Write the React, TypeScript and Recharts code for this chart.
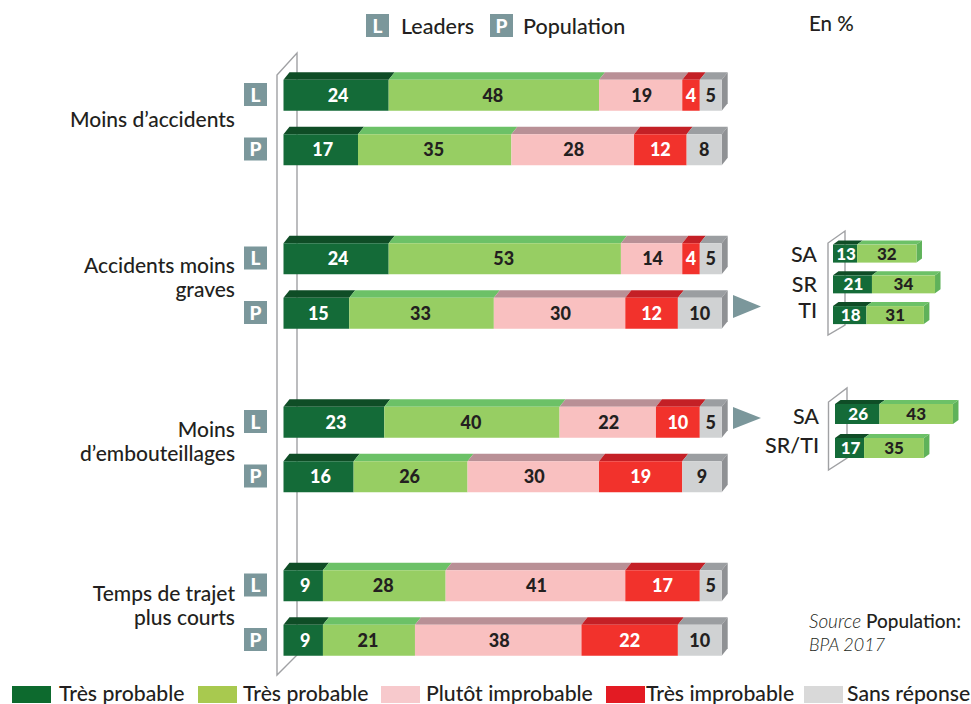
import React from 'react';
import { BarChart, Bar, XAxis, YAxis, LabelList } from 'recharts';

const FONT = 'Lato, sans-serif';
const INK = '#231f20';
const BADGE = '#7b979b';
const FRAME = '#a0a1a4';

// main chart: blank rows keep the gap between the four groups
const rows = ['L', 'P', '', 'L', 'P', '', 'L', 'P', '', 'L', 'P'];
const veryLikely = [24, 17, null, 24, 15, null, 23, 16, null, 9, 9];
const likely = [48, 35, null, 53, 33, null, 40, 26, null, 28, 21];
const unlikely = [19, 28, null, 14, 30, null, 22, 30, null, 41, 38];
const veryUnlikely = [4, 12, null, 4, 12, null, 10, 19, null, 17, 22];
const noAnswer = [5, 8, null, 5, 10, null, 5, 9, null, 5, 10];

const groupLabels = [
  ['Moins d’accidents'],
  ['Accidents moins', 'graves'],
  ['Moins', 'd’embouteillages'],
  ['Temps de trajet', 'plus courts'],
];
const groupTops = [106.5, 253, 417, 581];

// inset charts
const insetARegions = ['SA', 'SR', 'TI'];
const insetAVeryLikely = [13, 21, 18];
const insetALikely = [32, 34, 31];
const insetBRegions = ['SA', 'SR/TI'];
const insetBVeryLikely = [26, 17];
const insetBLikely = [43, 35];

const legendLabels = ['Très probable', 'Très probable', 'Plutôt improbable', 'Très improbable', 'Sans réponse'];
const legendColors = ['#0d6a2e', '#a8c94f', '#f7c9cc', '#e31b23', '#d9d9d9'];
const legendX = [12, 198, 381, 606, 804];
const legendTextX = [59, 243, 426, 646, 847];

const mainData = rows.map((row, i) => ({
  row,
  a: veryLikely[i],
  b: likely[i],
  c: unlikely[i],
  d: veryUnlikely[i],
  e: noAnswer[i],
}));
const insetAData = insetARegions.map((row, i) => ({ row, a: insetAVeryLikely[i], b: insetALikely[i] }));
const insetBData = insetBRegions.map((row, i) => ({ row, a: insetBVeryLikely[i], b: insetBLikely[i] }));

// front face + top face, and a side face for the last segment of a stack
const bar3d = (front: string, top: string, dx: number, dy: number, side?: string) => (props: any) => {
  const { x, y, width, height } = props;
  if (!width || !height) return <g />;
  return (
    <g>
      <polygon
        points={`${x},${y} ${x + dx},${y - dy} ${x + width + dx},${y - dy} ${x + width},${y}`}
        fill={top}
      />
      {side && (
        <polygon
          points={`${x + width},${y} ${x + width + dx},${y - dy} ${x + width + dx},${y + height - dy} ${x + width},${y + height}`}
          fill={side}
        />
      )}
      <rect x={x} y={y} width={width} height={height} fill={front} />
    </g>
  );
};

const BadgeTick = (props: any) => {
  const { x, y, payload } = props;
  if (!payload.value) return <g />;
  return (
    <g>
      <rect x={x - 39.5} y={y - 12} width={23} height={23} fill={BADGE} />
      <text x={x - 28} y={y + 6.5} textAnchor="middle" fontFamily={FONT} fontWeight={900} fontSize={19} fill="#fff">
        {payload.value}
      </text>
    </g>
  );
};

const regionTick = (shifts: number[]) => (props: any) => {
  const { x, y, payload, index } = props;
  return (
    <text x={x - 16} y={y + 7.5 + shifts[index]} textAnchor="end" fontFamily={FONT} fontWeight={500} fontSize={21.5} fill={INK}>
      {payload.value}
    </text>
  );
};

const labelStyle = (size: number) => ({ fontFamily: FONT, fontWeight: 900, fontSize: size });

const Badge = ({ left, letter }: { left: number; letter: string }) => (
  <div
    style={{
      position: 'absolute', left, top: 14, width: 23, height: 23, background: BADGE, color: '#fff',
      font: `900 19px/23px ${FONT}`, textAlign: 'center',
    }}
  >
    {letter}
  </div>
);

const textAt = (left: number, top: number, size = 21): React.CSSProperties => ({
  position: 'absolute', left, top, fontFamily: FONT, fontWeight: 500, fontSize: size, color: INK, whiteSpace: 'nowrap', lineHeight: '24px',
});

const Inset = ({ data, left, top, width, height, margin, axisWidth, barSize, shifts }: any) => (
  <div style={{ position: 'absolute', left, top }}>
    <BarChart layout="vertical" width={width} height={height} data={data} margin={margin}>
      <XAxis type="number" domain={[0, 70]} hide />
      <YAxis
        type="category"
        dataKey="row"
        width={axisWidth}
        axisLine={false}
        tickLine={false}
        tickSize={0}
        tickMargin={0}
        interval={0}
        tick={regionTick(shifts)}
      />
      <Bar dataKey="a" stackId="s" barSize={barSize} isAnimationActive={false} shape={bar3d('#146b38', '#0f4d26', 5.5, 4)}>
        <LabelList dataKey="a" position="center" fill="#fff" dx={1} style={labelStyle(17)} />
      </Bar>
      <Bar dataKey="b" stackId="s" barSize={barSize} isAnimationActive={false} shape={bar3d('#97ce63', '#6cc167', 5.5, 4, '#5fb25a')}>
        <LabelList dataKey="b" position="center" fill={INK} style={labelStyle(17)} />
      </Bar>
    </BarChart>
  </div>
);

const App = () => {
  return (
    <div style={{ position: 'absolute', left: 0, top: 0, width: 971, height: 704, overflow: 'hidden', background: '#fff' }}>
      {/* the slanted "planes" that stand behind the bars */}
      <svg width={971} height={704} style={{ position: 'absolute', left: 0, top: 0 }}>
        <g fill="none" stroke={FRAME} strokeWidth={1.4}>
          <path d="M277 675 V75 L297 53 V655 Z" />
          <path d="M828 335 V243 L845 231 V325 Z" />
          <path d="M828.5 470 V402 L847 388 V458 Z" />
        </g>
        <polygon points="733,295 733,318 761,306.5" fill={BADGE} />
        <polygon points="733,407 733,429 761,418" fill={BADGE} />
      </svg>

      <div style={{ position: 'absolute', left: 0, top: 0 }}>
        <BarChart
          layout="vertical"
          width={971}
          height={704}
          data={mainData}
          margin={{ top: 67.75, right: 249.3, bottom: 36.75, left: 243.5 }}
        >
          <XAxis type="number" domain={[0, 100]} hide />
          <YAxis
            type="category"
            dataKey="row"
            width={40}
            axisLine={false}
            tickLine={false}
            tickSize={0}
            tickMargin={0}
            interval={0}
            tick={BadgeTick}
          />
          <Bar dataKey="a" stackId="s" barSize={31} isAnimationActive={false} shape={bar3d('#146b38', '#0f4d26', 6, 7.5)}>
            <LabelList dataKey="a" position="center" fill="#fff" dx={2} style={labelStyle(18)} />
          </Bar>
          <Bar dataKey="b" stackId="s" barSize={31} isAnimationActive={false} shape={bar3d('#97ce63', '#6cc167', 6, 7.5)}>
            <LabelList dataKey="b" position="center" fill={INK} dx={-1} style={labelStyle(18)} />
          </Bar>
          <Bar dataKey="c" stackId="s" barSize={31} isAnimationActive={false} shape={bar3d('#f9c0c0', '#b99096', 6, 7.5)}>
            <LabelList dataKey="c" position="center" fill={INK} dx={1} style={labelStyle(18)} />
          </Bar>
          <Bar dataKey="d" stackId="s" barSize={31} isAnimationActive={false} shape={bar3d('#f2322c', '#c42026', 6, 7.5)}>
            <LabelList dataKey="d" position="center" fill="#fff" style={labelStyle(18)} />
          </Bar>
          <Bar dataKey="e" stackId="s" barSize={31} isAnimationActive={false} shape={bar3d('#d0d2d3', '#9b9ea1', 6, 7.5, '#8f9194')}>
            <LabelList dataKey="e" position="center" fill={INK} style={labelStyle(18)} />
          </Bar>
        </BarChart>
      </div>

      <Inset
        data={insetAData}
        left={760}
        top={220}
        width={211}
        height={120}
        axisWidth={73}
        barSize={18}
        shifts={[1, 0, -5]}
        margin={{ top: 18.6, right: 8.15, bottom: 9.15, left: 0 }}
      />
      <Inset
        data={insetBData}
        left={760}
        top={380}
        width={211}
        height={100}
        axisWidth={75}
        barSize={20}
        shifts={[2, -3]}
        margin={{ top: 17, right: 16.3, bottom: 15, left: 0 }}
      />

      {groupLabels.map((lines, i) =>
        lines.map((line, j) => (
          <div
            key={line}
            style={{ ...textAt(0, groupTops[i] + j * 24), width: 235, textAlign: 'right' }}
          >
            {line}
          </div>
        ))
      )}

      <Badge left={366} letter="L" />
      <div style={textAt(401, 13.5, 21.5)}>Leaders</div>
      <Badge left={490} letter="P" />
      <div style={textAt(523, 13.5, 21.5)}>Population</div>
      <div style={textAt(809, 11, 20.5)}>En %</div>

      <div style={textAt(809, 609, 19)}>
        <i style={{ fontWeight: 300 }}>Source</i> <span style={{ fontWeight: 500 }}>Population:</span>
      </div>
      <div style={{ ...textAt(809, 631.5, 18), fontStyle: 'italic', fontWeight: 300 }}>BPA 2017</div>

      {legendLabels.map((label, i) => (
        <React.Fragment key={i}>
          <div style={{ position: 'absolute', left: legendX[i], top: 686, width: 39, height: 17, background: legendColors[i] }} />
          <div style={{ ...textAt(legendTextX[i], 681.5, 21.2), lineHeight: '22px' }}>{label}</div>
        </React.Fragment>
      ))}
    </div>
  );
};

export default App;
